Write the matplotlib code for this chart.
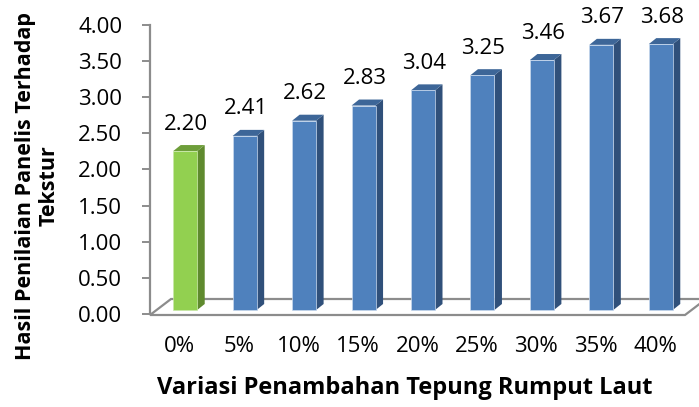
import matplotlib
matplotlib.use("Agg")
import matplotlib.pyplot as plt
from matplotlib.patches import Polygon, Rectangle

plt.rcParams['font.family'] = ['Open Sans', 'DejaVu Sans']

categories = ["0%", "5%", "10%", "15%", "20%", "25%", "30%", "35%", "40%"]
values = [2.20, 2.41, 2.62, 2.83, 3.04, 3.25, 3.46, 3.67, 3.68]
highlight = [True, False, False, False, False, False, False, False, False]
yticks = [0.0, 0.5, 1.0, 1.5, 2.0, 2.5, 3.0, 3.5, 4.0]
ylabel = "Hasil Penilaian Panelis Terhadap\nTekstur"
xlabel = "Variasi Penambahan Tepung Rumput Laut"

W, H = 699, 407
fig = plt.figure(figsize=(W / 100, H / 100), dpi=100)

ax_left, ax_right = 150, 685
ax_bottom, ax_top = 314, 25
ax = fig.add_axes([ax_left / W, (H - ax_bottom) / H,
                   (ax_right - ax_left) / W, (ax_bottom - ax_top) / H])
n = len(categories)
ax.set_xlim(-0.5, n - 0.5)
ax.set_ylim(0, 4)

# pixel -> data conversion factors
px_x = (ax_right - ax_left) / n
px_y = (ax_bottom - ax_top) / 4.0
def dx(p):
    return p / px_x
def dy(p):
    return p / px_y

edge_gray = "#8c8c8c"

# floor (3-D base)
fd_x, fd_y = dx(21), dy(15)
floor = Polygon([(-0.5, dy(-1)), (n - 0.5, dy(-1)),
                 (n - 0.5 + fd_x, fd_y), (-0.5 + fd_x, fd_y)],
                closed=True, facecolor="white", edgecolor=edge_gray,
                linewidth=1.6, clip_on=False, zorder=1)
ax.add_patch(floor)

# bars
front_shift_x, base_y = dx(5.5), dy(4)
bw = dx(24)
side_x, side_y = dx(7.5), dy(6)
for i, (v, hl) in enumerate(zip(values, highlight)):
    if hl:
        c_front, c_side, c_top = "#92D050", "#5F8A2E", "#6E9E3A"
    else:
        c_front, c_side, c_top = "#4F81BD", "#30507A", "#3D6698"
    x0 = i + front_shift_x - bw / 2
    x1 = x0 + bw
    y0 = base_y
    y1 = base_y + v
    side = Polygon([(x1, y0), (x1 + side_x, y0 + side_y),
                    (x1 + side_x, y1 + side_y), (x1, y1)],
                   closed=True, facecolor=c_side, edgecolor="none", zorder=3,
                   clip_on=False)
    top = Polygon([(x0, y1), (x1, y1), (x1 + side_x, y1 + side_y),
                   (x0 + side_x, y1 + side_y)],
                  closed=True, facecolor=c_top, edgecolor="none", zorder=3,
                  clip_on=False)
    front = Rectangle((x0, y0), bw, v, facecolor=c_front,
                      edgecolor="#c9d9ee" if not hl else "#c8e8a8",
                      linewidth=0.5, zorder=4, clip_on=False)
    ax.add_patch(side)
    ax.add_patch(top)
    ax.add_patch(front)
    ax.text(i + dx(6.5), y1 + dy(27), f"{v:.2f}", ha="center", va="center",
            fontsize=16, color="black", zorder=5, clip_on=False)

# axes styling
for s in ["top", "right", "bottom"]:
    ax.spines[s].set_visible(False)
ax.spines["left"].set_color(edge_gray)
ax.spines["left"].set_linewidth(1.6)
ax.set_yticks(yticks)
ax.set_yticklabels([f"{t:.2f}" for t in yticks])
ax.tick_params(axis="y", length=6, width=1.4, color=edge_gray,
               labelsize=16, pad=14)
ax.set_xticks(range(n))
ax.set_xticklabels(categories)
ax.tick_params(axis="x", length=0, labelsize=16, pad=16)
ax.set_facecolor("none")

fig.text(37 / W, 1 - 186 / H, ylabel, rotation=90, ha="center", va="center",
         multialignment="center", fontsize=15.5, fontweight="bold",
         linespacing=1.15)
fig.text(405 / W, 1 - 388 / H, xlabel, ha="center", va="center",
         fontsize=17, fontweight="bold")

fig.savefig("out.png", dpi=100)
